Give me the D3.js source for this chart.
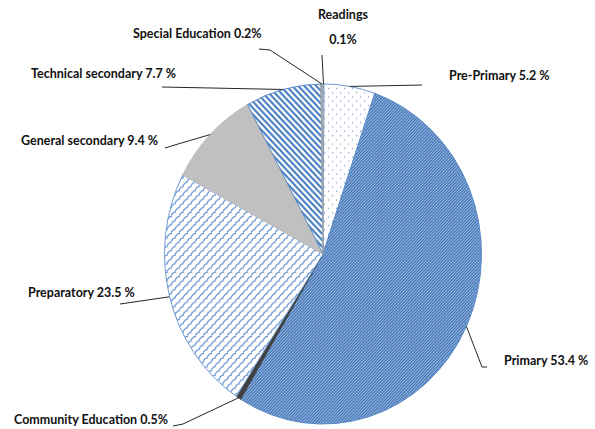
<!DOCTYPE html>
<html>
<head>
<meta charset="utf-8">
<script src="https://cdn.jsdelivr.net/npm/d3@7"></script>
<style>
  html, body { margin: 0; padding: 0; background: #fff; }
  svg text { font-family: Lato, "Open Sans", sans-serif; font-weight: bold; font-size: 12.5px; fill: #111; }
</style>
</head>
<body>
<div id="chart"></div>
<script>
// -------------------------------------------------------------------------
// Data

const categories = ['Readings', 'Pre-Primary', 'Primary', 'Community Education',
  'Preparatory', 'General secondary', 'Technical secondary', 'Special Education'];
const shares = [0.1, 5.2, 53.4, 0.5, 23.5, 9.4, 7.7, 0.2];
const labelTexts = [['Readings', '0.1%'], ['Pre-Primary 5.2 %'], ['Primary 53.4 %'],
  ['Community Education 0.5%'], ['Preparatory 23.5 %'], ['General secondary 9.4 %'],
  ['Technical secondary 7.7 %'], ['Special Education 0.2%']];

// -------------------------------------------------------------------------
// Layout

const width = 595;
const height = 429;
const cx = 323;
const cy = 254;
const rx = 158.5;
const ry = 170;

// label anchor + leader elbow points for each slice (same order as categories)
const labelLayout = [
  { x: 343, y: 19, anchor: 'middle', dy: 25, leader: [[322, 55]] },
  { x: 449, y: 80, anchor: 'start', leader: [[422, 85]] },
  { x: 504, y: 365, anchor: 'start', leader: [[482, 367], [487, 367]] },
  { x: 14, y: 424, anchor: 'start', leader: [[183, 424], [173, 426]] },
  { x: 28, y: 297, anchor: 'start', leader: [[120, 304]] },
  { x: 21, y: 145, anchor: 'start', leader: [[178, 144], [165, 148]] },
  { x: 31, y: 78, anchor: 'start', leader: [[162, 87]] },
  { x: 133, y: 38, anchor: 'start', leader: [[270, 50], [259, 49]] }
];

const fills = ['#8eb4e3', 'url(#dots)', 'url(#fineDiag)', '#404040',
  'url(#shingle)', '#c0c0c0', 'url(#wideDiag)', '#a6a6a6'];
const strokes = ['#8eb4e3', '#6f9bd4', '#5b8bc9', '#404040',
  '#6f9bd4', '#c0c0c0', '#5b8bc9', '#a6a6a6'];

// -------------------------------------------------------------------------
// Render

let svg = d3.select('#chart').append('svg')
  .attr('width', width)
  .attr('height', height);

let defs = svg.append('defs');

// Pre-Primary: sparse dots
let dots = defs.append('pattern')
  .attr('id', 'dots')
  .attr('patternUnits', 'userSpaceOnUse')
  .attr('width', 8).attr('height', 8);
dots.append('rect').attr('width', 8).attr('height', 8).attr('fill', '#fff');
dots.append('rect').attr('x', 1).attr('y', 1).attr('width', 1.2).attr('height', 1.2).attr('fill', '#7fa6d8');
dots.append('rect').attr('x', 5).attr('y', 5).attr('width', 1.2).attr('height', 1.2).attr('fill', '#7fa6d8');

// Primary: fine dense diagonal
let fine = defs.append('pattern')
  .attr('id', 'fineDiag')
  .attr('patternUnits', 'userSpaceOnUse')
  .attr('width', 3).attr('height', 3);
fine.append('rect').attr('width', 3).attr('height', 3).attr('fill', '#dfe8f5');
fine.append('path')
  .attr('d', 'M-1,1 L1,-1 M0,3 L3,0 M2,4 L4,2')
  .attr('stroke', '#4679bb')
  .attr('stroke-width', 1.7);

// Preparatory: shingle / divot
let shingle = defs.append('pattern')
  .attr('id', 'shingle')
  .attr('patternUnits', 'userSpaceOnUse')
  .attr('width', 8).attr('height', 8);
shingle.append('rect').attr('width', 8).attr('height', 8).attr('fill', '#fff');
shingle.append('path')
  .attr('d', 'M0,4 L3,1 M4,8 L7,5 M3,1 L5,1 M7,5 L9,5 M-1,5 L1,5')
  .attr('stroke', '#5f8fd0')
  .attr('stroke-width', 1.2)
  .attr('fill', 'none');

// Technical secondary: wide downward diagonal
let wide = defs.append('pattern')
  .attr('id', 'wideDiag')
  .attr('patternUnits', 'userSpaceOnUse')
  .attr('width', 6).attr('height', 6);
wide.append('rect').attr('width', 6).attr('height', 6).attr('fill', '#fff');
wide.append('path')
  .attr('d', 'M-1,-1 L7,7 M-1,5 L1,7 M5,-1 L7,1')
  .attr('stroke', '#4a7fc1')
  .attr('stroke-width', 2);

let pie = d3.pie()
  .sort(null)
  .value(d => d);

let arcs = pie(shares);

let arc = d3.arc()
  .innerRadius(0)
  .outerRadius(rx);

let slices = svg.append('g')
  .attr('transform', `translate(${cx},${cy}) scale(1,${ry / rx})`);

slices.selectAll('path')
  .data(arcs)
  .enter().append('path')
  .attr('d', arc)
  .attr('fill', (d, i) => fills[i])
  .attr('stroke', (d, i) => strokes[i])
  .attr('stroke-width', 1)
  .attr('vector-effect', 'non-scaling-stroke');

// leader lines start on the ellipse edge at the middle of each slice
let edgePoint = function(d) {
  let a = (d.startAngle + d.endAngle) / 2;
  return [cx + rx * Math.sin(a), cy - ry * Math.cos(a)];
};

let leaders = svg.append('g');
leaders.selectAll('path')
  .data(arcs)
  .enter().append('path')
  .attr('d', (d, i) => d3.line()([edgePoint(d)].concat(labelLayout[i].leader)))
  .attr('fill', 'none')
  .attr('stroke', '#262626')
  .attr('stroke-width', 1);

let labels = svg.append('g');
labelTexts.forEach((lines, i) => {
  let l = labelLayout[i];
  lines.forEach((t, j) => {
    labels.append('text')
      .attr('x', l.x)
      .attr('y', l.y + j * (l.dy || 0))
      .attr('text-anchor', l.anchor)
      .text(t);
  });
});
</script>
</body>
</html>
